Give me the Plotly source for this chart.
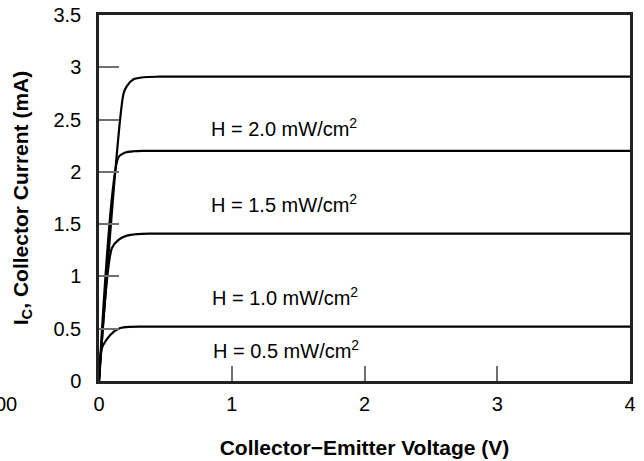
import plotly.graph_objects as go

# Collector-Emitter Voltage (V) and collector current (mA)
v_h20 = [0.0, 0.185, 0.21, 0.26, 0.336, 0.45, 4.0]
i_h20 = [0.0, 2.75, 2.82, 2.885, 2.905, 2.91, 2.91]

v_h15 = [0.0, 0.147, 0.198, 0.26, 0.34, 4.0]
i_h15 = [0.0, 2.14, 2.185, 2.197, 2.20, 2.20]

v_h10 = [0.0, 0.097, 0.147, 0.21, 0.285, 0.38, 4.0]
i_h10 = [0.0, 1.27, 1.35, 1.39, 1.405, 1.41, 1.41]

v_h05 = [0.0, 0.021, 0.085, 0.16, 0.235, 0.32, 4.0]
i_h05 = [0.0, 0.314, 0.44, 0.506, 0.518, 0.52, 0.52]

series = [(v_h20, i_h20), (v_h15, i_h15), (v_h10, i_h10), (v_h05, i_h05)]

labels = ["H = 2.0 mW/cm<sup>2</sup>", "H = 1.5 mW/cm<sup>2</sup>",
          "H = 1.0 mW/cm<sup>2</sup>", "H = 0.5 mW/cm<sup>2</sup>"]
label_x = [0.83, 0.83, 0.835, 0.845]
label_y = [2.42, 1.70, 0.81, 0.305]

x_ticks = [0, 1, 2, 3, 4]
y_ticks = [0, 0.5, 1, 1.5, 2, 2.5, 3, 3.5]
y_tick_text = ["0", "0.5", "1", "1.5", "2", "2.5", "3", "3.5"]

FONT = "Liberation Sans, Arial, Helvetica, sans-serif"

fig = go.Figure()
for v, i in series:
    fig.add_trace(go.Scatter(x=v, y=i, mode="lines",
                             line=dict(color="black", width=2.2, shape="spline", smoothing=0.7),
                             showlegend=False, hoverinfo="skip"))

for t, lx, ly in zip(labels, label_x, label_y):
    fig.add_annotation(x=lx, y=ly, text=t, showarrow=False, xanchor="left", yanchor="middle",
                       font=dict(family=FONT, size=20, color="black"))

# clipped stray tick label at the far left of the original image
fig.add_annotation(xref="paper", yref="paper", x=-0.1505, y=-0.063, text="00", showarrow=False,
                   xanchor="right", yanchor="middle", font=dict(family=FONT, size=20, color="black"))

fig.update_layout(
    width=644, height=461,
    margin=dict(l=99, r=14, t=15, b=80, autoexpand=False),
    paper_bgcolor="white", plot_bgcolor="white",
    font=dict(family=FONT, size=20, color="black"),
    xaxis=dict(range=[0, 4], tickvals=x_ticks, ticktext=[str(t) for t in x_ticks],
               ticks="inside", ticklen=15, tickwidth=2, tickcolor="#707070",
               showgrid=False, zeroline=False, showline=True, linecolor="#222222",
               linewidth=2.5, mirror=True, ticklabelstandoff=3, ticklabeloverflow="allow",
               automargin=False,
               title=dict(text="<b>Collector−Emitter Voltage (V)</b>", standoff=27,
                          font=dict(size=21))),
    yaxis=dict(range=[0, 3.5], tickvals=y_ticks, ticktext=y_tick_text,
               ticks="inside", ticklen=20, tickwidth=2, tickcolor="#707070",
               showgrid=False, zeroline=False, showline=True, linecolor="#222222",
               linewidth=2.5, mirror=True, ticklabelstandoff=11, ticklabeloverflow="allow",
               automargin=False,
               title=dict(text="<b>I<sub>C</sub>, Collector Current (mA)</b>", standoff=20,
                          font=dict(size=21))),
)

fig.write_html("out.html", config={"displayModeBar": False},
               post_script="document.body.style.margin='0';document.body.style.overflow='hidden';")
